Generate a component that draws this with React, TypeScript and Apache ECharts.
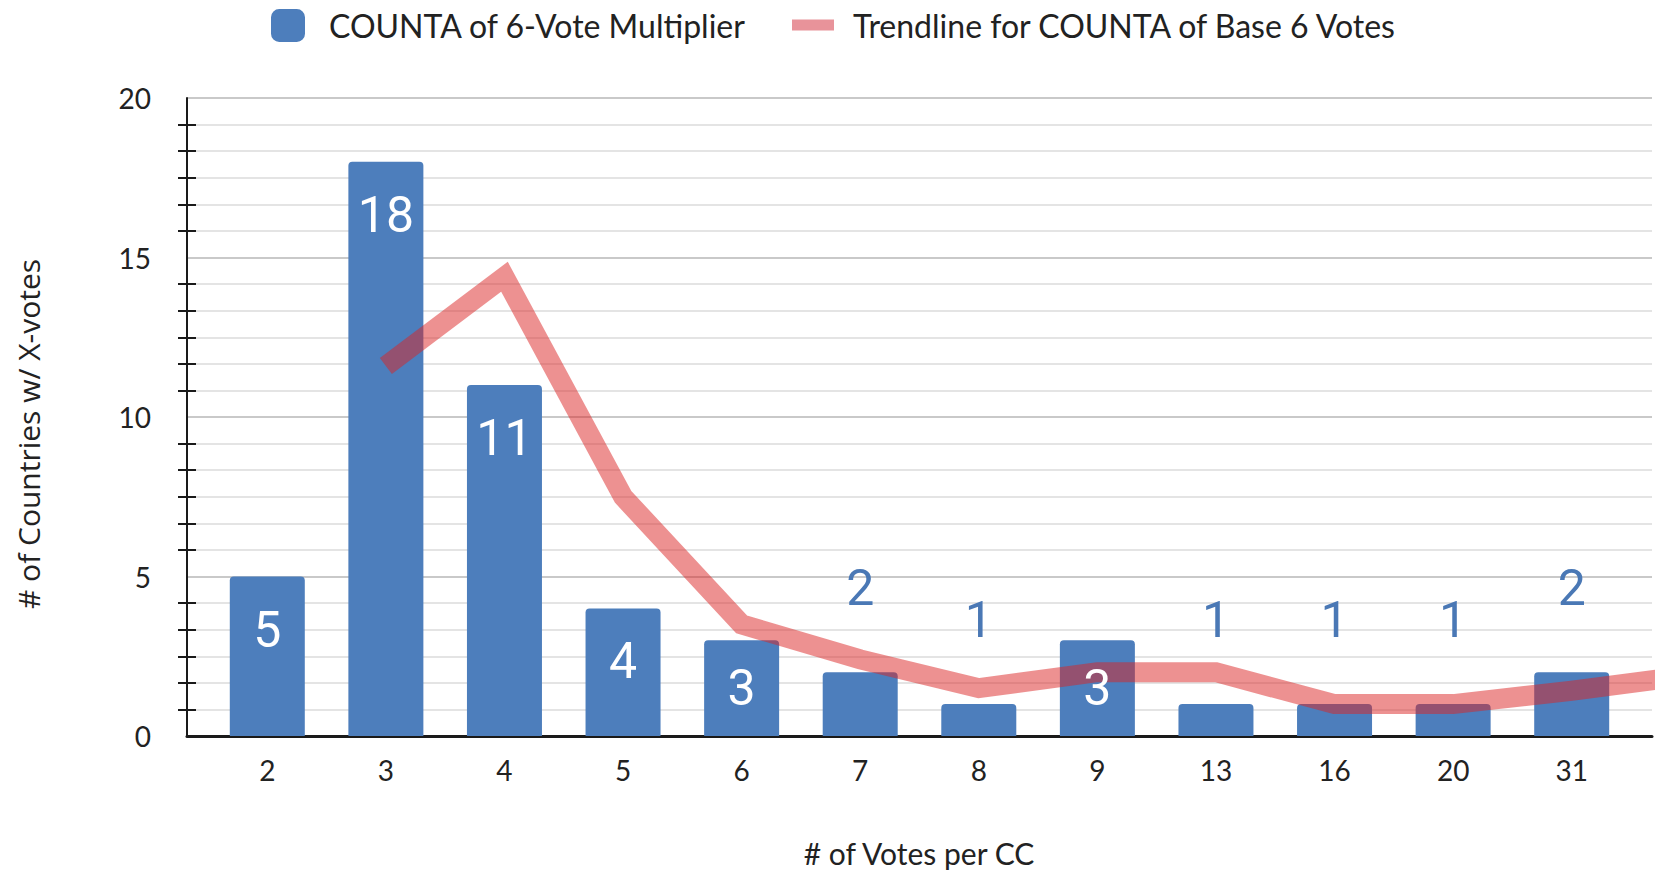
import React, { useEffect, useRef } from "react";
import * as echarts from "echarts";

const categories = ["2", "3", "4", "5", "6", "7", "8", "9", "13", "16", "20", "31"];
const counts = [5, 18, 11, 4, 3, 2, 1, 3, 1, 1, 1, 2];
// trendline values at each category index; the last value continues past the final category (clipped)
const trendline = [null, 11.6, 14.4, 7.5, 3.5, 2.4, 1.5, 2.0, 2.0, 1.0, 1.0, 1.42, 1.9];
const yTicks = [0, 5, 10, 15, 20];

const barName = "COUNTA of 6-Vote Multiplier";
const trendName = "Trendline for COUNTA of Base 6 Votes";

const BLUE = "#4d7ebc";
const LABEL_BLUE = "#4a78b5";

function labelFor(v: number) {
  if (v >= 4) return { position: "insideTop", distance: 28, color: "#ffffff" };
  if (v === 3) return { position: "inside", color: "#ffffff" };
  return { position: "top", distance: 59, color: LABEL_BLUE };
}

export default function App() {
  const ref = useRef<HTMLDivElement>(null);
  useEffect(() => {
    const chart = echarts.init(ref.current!, null, { renderer: "svg" });
    const n = categories.length;
    const gLeft = 187, gRight = 1652, fLeft = 208, fRight = 1631;
    const band = (fRight - fLeft) / n;
    const c0 = fLeft + band / 2;
    const xMin = (gLeft - c0) / band;
    const xMax = (gRight - c0) / band;
    const yMin = yTicks[0];
    const yMax = yTicks[yTicks.length - 1];
    const yStep = yTicks[1] - yTicks[0];

    chart.setOption({
      animation: false,
      backgroundColor: "#ffffff",
      legend: [
        {
          data: [{ name: barName, icon: "roundRect", itemStyle: { color: BLUE } }],
          left: 271,
          top: 9,
          padding: 0,
          itemWidth: 34,
          itemHeight: 33,
          selectedMode: false,
          textStyle: { fontFamily: "Lato", fontSize: 32, color: "#222", padding: [0, 0, 0, 19] },
        },
        {
          data: [{ name: trendName, icon: "rect", itemStyle: { color: "#e8939a", opacity: 1 } }],
          left: 792,
          top: 9,
          padding: 0,
          itemWidth: 42,
          itemHeight: 11,
          selectedMode: false,
          textStyle: { fontFamily: "Lato", fontSize: 32, color: "#222", padding: [0, 0, 0, 14] },
        },
      ],
      grid: [
        { left: gLeft, width: gRight - gLeft, top: 98, bottom: 138 },
        { left: fLeft, width: fRight - fLeft, top: 98, bottom: 138 },
      ],
      xAxis: [
        {
          type: "value",
          gridIndex: 0,
          min: xMin,
          max: xMax,
          axisLine: { show: true, onZero: false, lineStyle: { color: "#1a1a1a", width: 3 } },
          axisTick: { show: false },
          axisLabel: { show: false },
          splitLine: { show: false },
        },
        {
          type: "category",
          gridIndex: 1,
          data: categories,
          axisLine: { show: false },
          axisTick: { show: false },
          axisLabel: { fontFamily: "Lato", fontSize: 28, color: "#222", margin: 20 },
        },
      ],
      yAxis: [
        {
          type: "value",
          gridIndex: 0,
          min: yMin,
          max: yMax,
          interval: yStep,
          axisLine: { show: true, onZero: false, lineStyle: { color: "#1a1a1a", width: 2 } },
          axisTick: { show: true, length: 9, lineStyle: { color: "rgba(0,0,0,0)" } },
          minorTick: { show: true, splitNumber: 6, length: 9, lineStyle: { color: "#1a1a1a", width: 2 } },
          axisLabel: { fontFamily: "Lato", fontSize: 28, color: "#222", margin: 36 },
          splitLine: { show: true, lineStyle: { color: "#c9c9c9", width: 2 } },
          minorSplitLine: { show: true, lineStyle: { color: "#e4e4e4", width: 2 } },
        },
        {
          type: "value",
          gridIndex: 1,
          min: yMin,
          max: yMax,
          interval: yStep,
          offset: fLeft - gLeft,
          axisLine: { show: false, onZero: false },
          axisTick: { show: true, inside: true, length: 9, lineStyle: { color: "rgba(0,0,0,0)" } },
          minorTick: { show: true, splitNumber: 6, length: 9, lineStyle: { color: "#1a1a1a", width: 2 } },
          axisLabel: { show: false },
          splitLine: { show: false },
        },
      ],
      series: [
        {
          name: barName,
          type: "bar",
          xAxisIndex: 1,
          yAxisIndex: 1,
          data: counts,
          barWidth: 75,
          z: 2,
          itemStyle: { color: BLUE, borderRadius: [4, 4, 0, 0] },
        },
        {
          name: trendName,
          type: "line",
          xAxisIndex: 0,
          yAxisIndex: 0,
          data: trendline.map((v, i) => [i, v]),
          showSymbol: false,
          symbol: "none",
          z: 3,
          clip: true,
          itemStyle: { color: "rgb(220,35,35)" },
          lineStyle: { color: "rgb(220,35,35)", width: 20, opacity: 0.5, cap: "butt", join: "miter" },
        },
        {
          name: "labels",
          type: "bar",
          xAxisIndex: 1,
          yAxisIndex: 1,
          barWidth: 75,
          barGap: "-100%",
          z: 4,
          itemStyle: { color: "rgba(0,0,0,0)" },
          data: counts.map((v) => ({
            value: v,
            label: { show: true, fontFamily: "Roboto", fontSize: 50, ...labelFor(v) },
          })),
        },
      ],
      graphic: [
        {
          type: "text",
          x: 28,
          y: 434,
          rotation: Math.PI / 2,
          style: {
            text: "# of Countries w/ X-votes",
            fontFamily: "Open Sans",
            fontSize: 30,
            fill: "#222",
            align: "center",
            verticalAlign: "middle",
          },
        },
        {
          type: "text",
          x: 919,
          y: 853,
          style: {
            text: "# of Votes per CC",
            fontFamily: "Lato",
            fontSize: 30,
            fill: "#222",
            align: "center",
            verticalAlign: "middle",
          },
        },
      ],
    });
    return () => chart.dispose();
  }, []);
  return (
    <div
      ref={ref}
      style={{ position: "absolute", left: 0, top: 0, width: 1655, height: 874 }}
    />
  );
}
